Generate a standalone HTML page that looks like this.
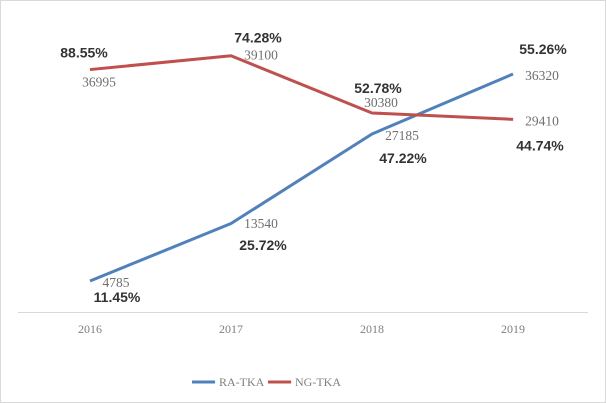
<!DOCTYPE html>
<html><head><meta charset="utf-8"><style>
html,body{margin:0;padding:0;background:#fff}
svg{display:block}
.v{font-family:"Liberation Serif",serif;font-size:13.5px;fill:#6f6f6f}
.p{font-family:"Liberation Sans",sans-serif;font-size:14px;font-weight:bold;fill:#333}
.ax{font-family:"Liberation Serif",serif;font-size:12px;fill:#7f7f7f}
</style></head><body>
<svg id="chart" width="606" height="403">
<rect x="0.5" y="0.5" width="605" height="402" fill="#fff" stroke="#d9d9d9"/>
<line x1="18" y1="312.5" x2="588" y2="312.5" stroke="#d9d9d9"/>
<g id="marks"></g>
<g>
<line x1="192" y1="382" x2="215" y2="382" stroke="#4f81bd" stroke-width="3"/>
<text x="219" y="386" class="ax">RA-TKA</text>
<line x1="268" y1="382" x2="291" y2="382" stroke="#c0504d" stroke-width="3"/>
<text x="295" y="386" class="ax">NG-TKA</text>
</g>
</svg>
<script>
const categories=["2016","2017","2018","2019"];
const raValues=[4785,13540,27185,36320];
const ngValues=[36995,39100,30380,29410];
const raPct=["11.45%","25.72%","47.22%","55.26%"];
const ngPct=["88.55%","74.28%","52.78%","44.74%"];
const NS="http://www.w3.org/2000/svg";
const g=document.getElementById('marks');
function x(i){return 90+i*141;}
function y(v){return 312.4-v*0.006564;}
function mk(tag,attrs,txt){const e=document.createElementNS(NS,tag);for(const k in attrs)e.setAttribute(k,attrs[k]);if(txt!==undefined)e.textContent=txt;g.appendChild(e);return e;}
categories.forEach((c,i)=>{
 const t=mk('text',{x:x(i),y:333,'text-anchor':'middle',class:'ax'},c);
 
 
});
const rl=mk('polyline',{points:raValues.map((v,i)=>x(i)+','+y(v)).join(' '),fill:'none',stroke:'#4f81bd','stroke-width':3,'stroke-linejoin':'round'});


const nl=mk('polyline',{points:ngValues.map((v,i)=>x(i)+','+y(v)).join(' '),fill:'none',stroke:'#c0504d','stroke-width':3,'stroke-linejoin':'round'});


const raOff=[[26,6,27,21],[30,4.5,32,26.5],[30,6,31,29],[29,6,30,-20]];
const ngOff=[[9,17,-6,-12],[30,4,27,-13],[9,-6,6,-20],[29,6,27,31]];
raValues.forEach((v,i)=>{
 const a=mk('text',{x:x(i)+raOff[i][0],y:y(v)+raOff[i][1],'text-anchor':'middle',class:'v'},v);
 
 
 const b=mk('text',{x:x(i)+raOff[i][2],y:y(v)+raOff[i][3],'text-anchor':'middle',class:'p'},raPct[i]);
 
 
});
ngValues.forEach((v,i)=>{
 const a=mk('text',{x:x(i)+ngOff[i][0],y:y(v)+ngOff[i][1],'text-anchor':'middle',class:'v'},v);
 
 
 const b=mk('text',{x:x(i)+ngOff[i][2],y:y(v)+ngOff[i][3],'text-anchor':'middle',class:'p'},ngPct[i]);
 
 
});
</script>
</body></html>
